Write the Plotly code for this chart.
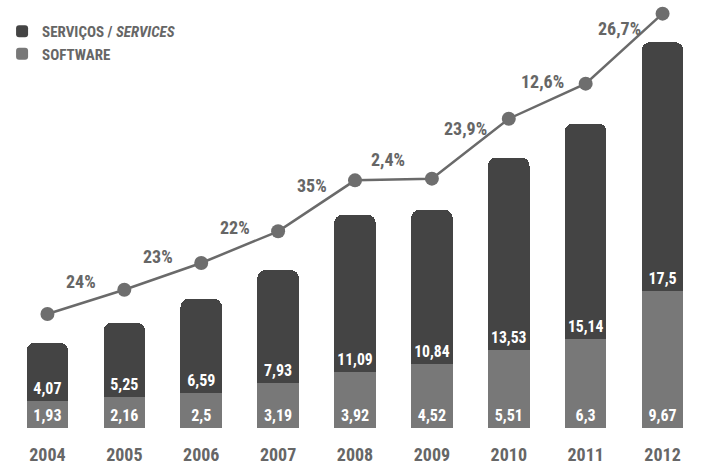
import plotly.graph_objects as go

years = ["2004", "2005", "2006", "2007", "2008", "2009", "2010", "2011", "2012"]
software = [1.93, 2.16, 2.5, 3.19, 3.92, 4.52, 5.51, 6.3, 9.67]
services = [4.07, 5.25, 6.59, 7.93, 11.09, 10.84, 13.53, 15.14, 17.5]
# line series (same vertical scale as bars)
line_values = [8.03, 9.74, 11.62, 13.85, 17.44, 17.56, 21.78, 24.25, 29.18]
growth_labels = ["24%", "23%", "22%", "35%", "2,4%", "23,9%", "12,6%", "26,7%"]

FONT = "'Roboto Condensed', 'Liberation Sans Narrow', sans-serif"
DARK = "#444444"
MID = "#787878"
TXT = "#666666"


def fmt(v):
    return ("%g" % v).replace(".", ",")


bar_text = dict(family=FONT, size=16, color="white", weight="bold")

fig = go.Figure()
fig.add_trace(go.Bar(
    x=years, y=software, name="<b>SOFTWARE</b>",
    marker=dict(color=MID, line=dict(width=0)),
    text=[fmt(v) for v in software], textposition="inside",
    insidetextanchor="start", textangle=0, constraintext="none",
    textfont=bar_text, hoverinfo="skip",
))
fig.add_trace(go.Bar(
    x=years, y=services, name="<b>SERVIÇOS / <i>SERVICES</i></b>",
    marker=dict(color=DARK, line=dict(width=0)),
    text=[fmt(v) for v in services], textposition="inside",
    insidetextanchor="start", textangle=0, constraintext="none",
    textfont=bar_text, hoverinfo="skip",
))
fig.add_trace(go.Scatter(
    x=years, y=line_values, mode="lines+markers", showlegend=False,
    line=dict(color="#6a6a6a", width=2.5),
    marker=dict(color="#6e6e6e", size=14),
    cliponaxis=False, hoverinfo="skip",
))

for i, lab in enumerate(growth_labels):
    fig.add_annotation(
        x=i + 0.5, y=(line_values[i] + line_values[i + 1]) / 2,
        text=lab, showarrow=False, xshift=-5, yshift=20,
        font=dict(family=FONT, size=18, color=TXT, weight="bold"),
    )

fig.update_layout(
    width=701, height=471,
    margin=dict(l=9, r=0, t=0, b=43),
    paper_bgcolor="white", plot_bgcolor="white",
    barmode="stack", bargap=0.46, barcornerradius=8,
    font=dict(family=FONT, color=TXT),
    showlegend=True,
    legend=dict(
        x=-0.01, y=0.965, xanchor="left", yanchor="top",
        font=dict(family=FONT, size=15, color=TXT),
        bgcolor="rgba(0,0,0,0)", tracegroupgap=0,
    ),
    xaxis=dict(range=[-0.5, 8.5], showgrid=False, zeroline=False,
               showline=False, ticks="", ticklabelstandoff=14,
               tickfont=dict(family=FONT, size=18, color=TXT, weight="bold")),
    yaxis=dict(range=[0, 30.14], visible=False, showgrid=False, zeroline=False),
)

fig.write_html("out.html", config={"displayModeBar": False},
               post_script="document.body.style.margin='0';")
